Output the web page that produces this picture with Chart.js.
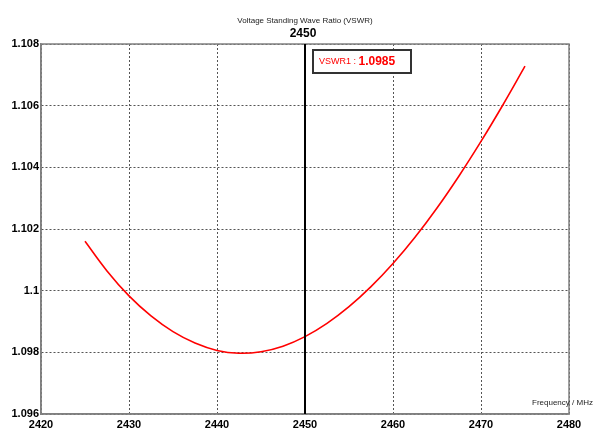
<!DOCTYPE html>
<html>
<head>
<meta charset="utf-8">
<script src="https://cdn.jsdelivr.net/npm/chart.js@4/dist/chart.umd.min.js"></script>
<style>
  html, body { margin: 0; padding: 0; background: #fff; }
  canvas { display: block; }
</style>
</head>
<body>
<canvas id="vswrChart" width="594" height="436"></canvas>
<script>
// Data
const freqs = [2425, 2427.5, 2430, 2432.5, 2435, 2437.5, 2440, 2442.5, 2445, 2447.5,
               2450, 2452.5, 2455, 2457.5, 2460, 2462.5, 2465, 2467.5, 2470, 2472.5, 2475];
const vswr = [1.10160, 1.10064, 1.09983, 1.09918, 1.09867, 1.09830, 1.09806, 1.09797, 1.09802, 1.09820,
              1.09851, 1.09894, 1.09948, 1.10013, 1.10088, 1.10173, 1.10268, 1.10372, 1.10484, 1.10603, 1.10728];
const markerFreq = 2450;
const markerValue = '1.0985';
const markerName = 'VSWR1';
const chartTitle = 'Voltage Standing Wave Ratio (VSWR)';
const xAxisTitle = 'Frequency / MHz';

const points = freqs.map((f, i) => ({ x: f, y: vswr[i] }));

// Teks & garis penanda
const overlay = {
    id: 'overlay',
    afterDatasetsDraw(chart) {
        const { ctx, chartArea: a, scales } = chart;
        ctx.save();
        // bingkai plot
        ctx.strokeStyle = '#808080';
        ctx.lineWidth = 1.5;
        ctx.strokeRect(a.left, a.top, a.right - a.left, a.bottom - a.top);

        // garis marker
        const mx = scales.x.getPixelForValue(markerFreq);
        ctx.strokeStyle = '#000';
        ctx.lineWidth = 2;
        ctx.beginPath();
        ctx.moveTo(mx, a.top);
        ctx.lineTo(mx, a.bottom);
        ctx.stroke();

        // judul
        ctx.fillStyle = '#222';
        ctx.font = '8px "Liberation Sans", Arial, sans-serif';
        ctx.textAlign = 'center';
        ctx.textBaseline = 'middle';
        ctx.fillText(chartTitle, (a.left + a.right) / 2, 21);

        ctx.fillStyle = '#000';
        ctx.font = 'bold 12px "Liberation Sans", Arial, sans-serif';
        ctx.fillText(String(markerFreq), mx - 2, 34);

        // label sumbu x
        ctx.fillStyle = '#222';
        ctx.font = '8px "Liberation Sans", Arial, sans-serif';
        ctx.textAlign = 'left';
        ctx.fillText(xAxisTitle, 532, 403);

        // kotak legenda marker
        const bx = 313, by = 50, bw = 98, bh = 23;
        ctx.fillStyle = '#fff';
        ctx.fillRect(bx, by, bw, bh);
        ctx.strokeStyle = '#333';
        ctx.lineWidth = 2;
        ctx.strokeRect(bx, by, bw, bh);
        ctx.fillStyle = '#ff0000';
        ctx.font = '9px "Liberation Sans", Arial, sans-serif';
        ctx.fillText(markerName + ' : ', 319, by + bh / 2);
        const w = ctx.measureText(markerName + ' : ').width;
        ctx.font = 'bold 12px "Liberation Sans", Arial, sans-serif';
        ctx.fillText(markerValue, 319 + w, by + bh / 2);
        ctx.restore();
    }
};

const ctx = document.getElementById('vswrChart').getContext('2d');
new Chart(ctx, {
    type: 'line',
    data: {
        datasets: [{
            label: 'VSWR',
            data: points,
            borderColor: '#ff0000',
            borderWidth: 1.6,
            pointRadius: 0,
            tension: 0.4,
            fill: false
        }]
    },
    options: {
        responsive: false,
        animation: false,
        layout: { padding: { left: 0, top: 44, right: 25, bottom: 0 } },
        plugins: {
            legend: { display: false },
            title: { display: false },
            tooltip: { enabled: false }
        },
        scales: {
            x: {
                type: 'linear',
                min: 2420,
                max: 2480,
                ticks: {
                    stepSize: 10,
                    color: '#000',
                    padding: 4,
                    maxRotation: 0,
                    font: { family: '"Liberation Sans", Arial, sans-serif', size: 11, weight: 'bold' },
                    callback: v => String(v)
                },
                grid: { color: '#555', lineWidth: 1, drawTicks: false },
                border: { display: true, color: '#808080', width: 1.5, dash: [2, 2] },
                afterFit(s) { s.height = 22; }
            },
            y: {
                min: 1.096,
                max: 1.108,
                ticks: {
                    stepSize: 0.002,
                    color: '#000',
                    padding: 2,
                    font: { family: '"Liberation Sans", Arial, sans-serif', size: 11, weight: 'bold' },
                    callback: v => String(parseFloat(Number(v).toFixed(3)))
                },
                grid: { color: '#555', lineWidth: 1, drawTicks: false },
                border: { display: true, color: '#808080', width: 1.5, dash: [2, 2] },
                afterFit(s) { s.width = 41; }
            }
        }
    },
    plugins: [overlay]
});
</script>
</body>
</html>
